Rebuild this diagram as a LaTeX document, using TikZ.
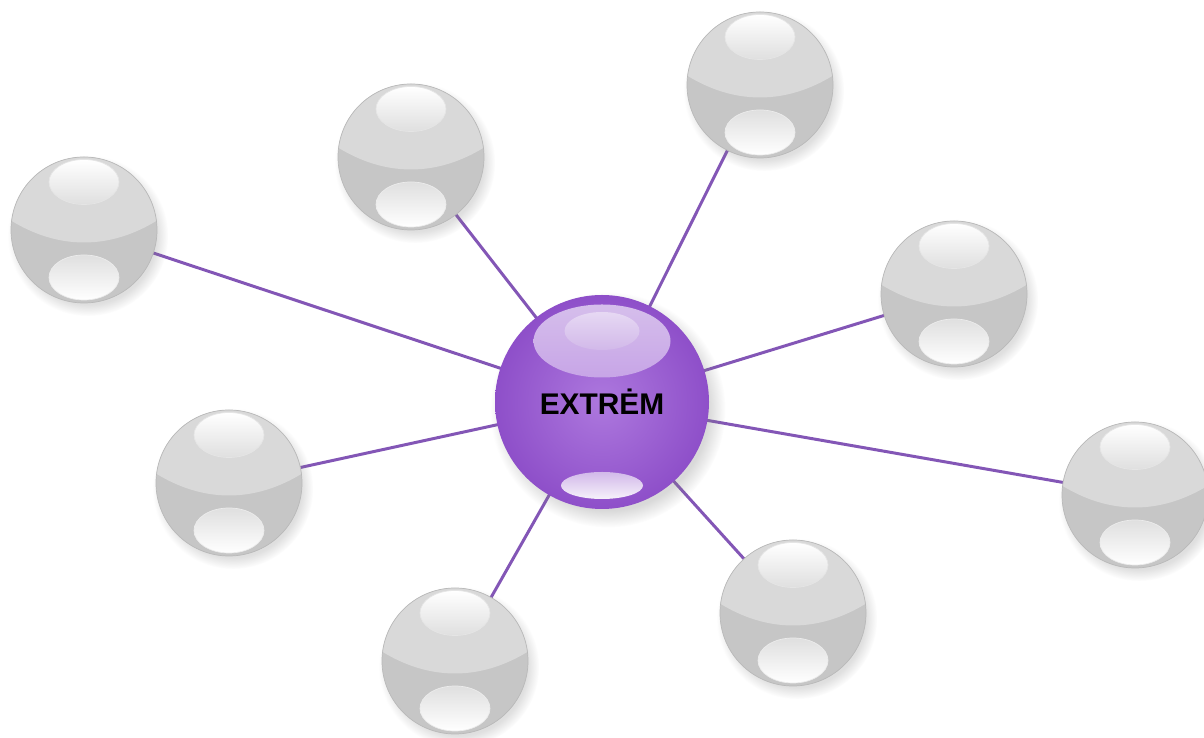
\documentclass[tikz,border=0pt]{standalone}
\usepackage{fontspec}
\usepackage{tikz}
\usetikzlibrary{positioning,backgrounds,shadows,shapes.geometric}
\newfontfamily\labelfont{Liberation Sans}
\definecolor{lilac}{HTML}{8E4FC9}
\definecolor{lilaclight}{HTML}{AD78DE}
\definecolor{lilacline}{HTML}{8356B6}

\begin{document}
\begin{tikzpicture}[
font=\labelfont,
link/.style={line width=1.7pt,lilacline},
graysphere/.style={circle,minimum size=2.92cm,inner sep=0pt,fill=gray!45,draw=gray!55,thin,
  circular drop shadow={shadow xshift=2pt,shadow yshift=-3pt,opacity=0.25},
  path picture={
    \fill[gray!30] ([shift={(-1.7,0.35)}]path picture bounding box.center)
      .. controls +(1.1,-0.8) and +(-1.1,-0.8) .. ++(3.4,0) -- ++(0,1.5) -- ++(-3.4,0) -- cycle;
    \shade[top color=white,bottom color=gray!25,draw=gray!20]
      ([yshift=0.96cm]path picture bounding box.center) ellipse (0.7cm and 0.45cm);
    \shade[top color=gray!25,bottom color=white,draw=gray!15]
      ([yshift=-0.95cm]path picture bounding box.center) ellipse (0.7cm and 0.45cm);
  }},
hubsphere/.style={circle,minimum size=4.28cm,inner sep=0pt,inner color=lilaclight,outer color=lilac,
  circular drop shadow={shadow xshift=3pt,shadow yshift=-4pt,opacity=0.3},
  path picture={
    \shade[top color=lilac!35,bottom color=lilaclight]
      ([yshift=1.22cm]path picture bounding box.center) ellipse (1.37cm and 0.73cm);
    \shade[top color=lilac!22,bottom color=lilac!40]
      ([yshift=1.42cm]path picture bounding box.center) ellipse (0.75cm and 0.38cm);
    \shade[top color=lilac!40,bottom color=lilac!8]
      ([yshift=-1.67cm]path picture bounding box.center) ellipse (0.82cm and 0.27cm);
  }}
]
    % canvas
    \useasboundingbox (0,0) rectangle (24.08,14.76);

    % hub
    \node[hubsphere,font=\labelfont\bfseries\fontsize{17}{20}\selectfont] (hub) at (12.04,6.72) {EXTRĖM};

    % outer spheres
    \node[graysphere] (s1) at (1.68,10.16) {};
    \node[graysphere] (s2) at (8.22,11.62) {};
    \node[graysphere] (s3) at (15.20,13.06) {};
    \node[graysphere] (s4) at (19.08,8.88) {};
    \node[graysphere] (s5) at (22.70,4.86) {};
    \node[graysphere] (s6) at (15.86,2.50) {};
    \node[graysphere] (s7) at (9.10,1.54) {};
    \node[graysphere] (s8) at (4.58,5.10) {};

    % links
    \begin{scope}[on background layer]
    \foreach \s in {s1,s2,s3,s4,s5,s6,s7,s8}
      \draw[link] (hub.center) -- (\s.center);
    \end{scope}
\end{tikzpicture}
\end{document}
